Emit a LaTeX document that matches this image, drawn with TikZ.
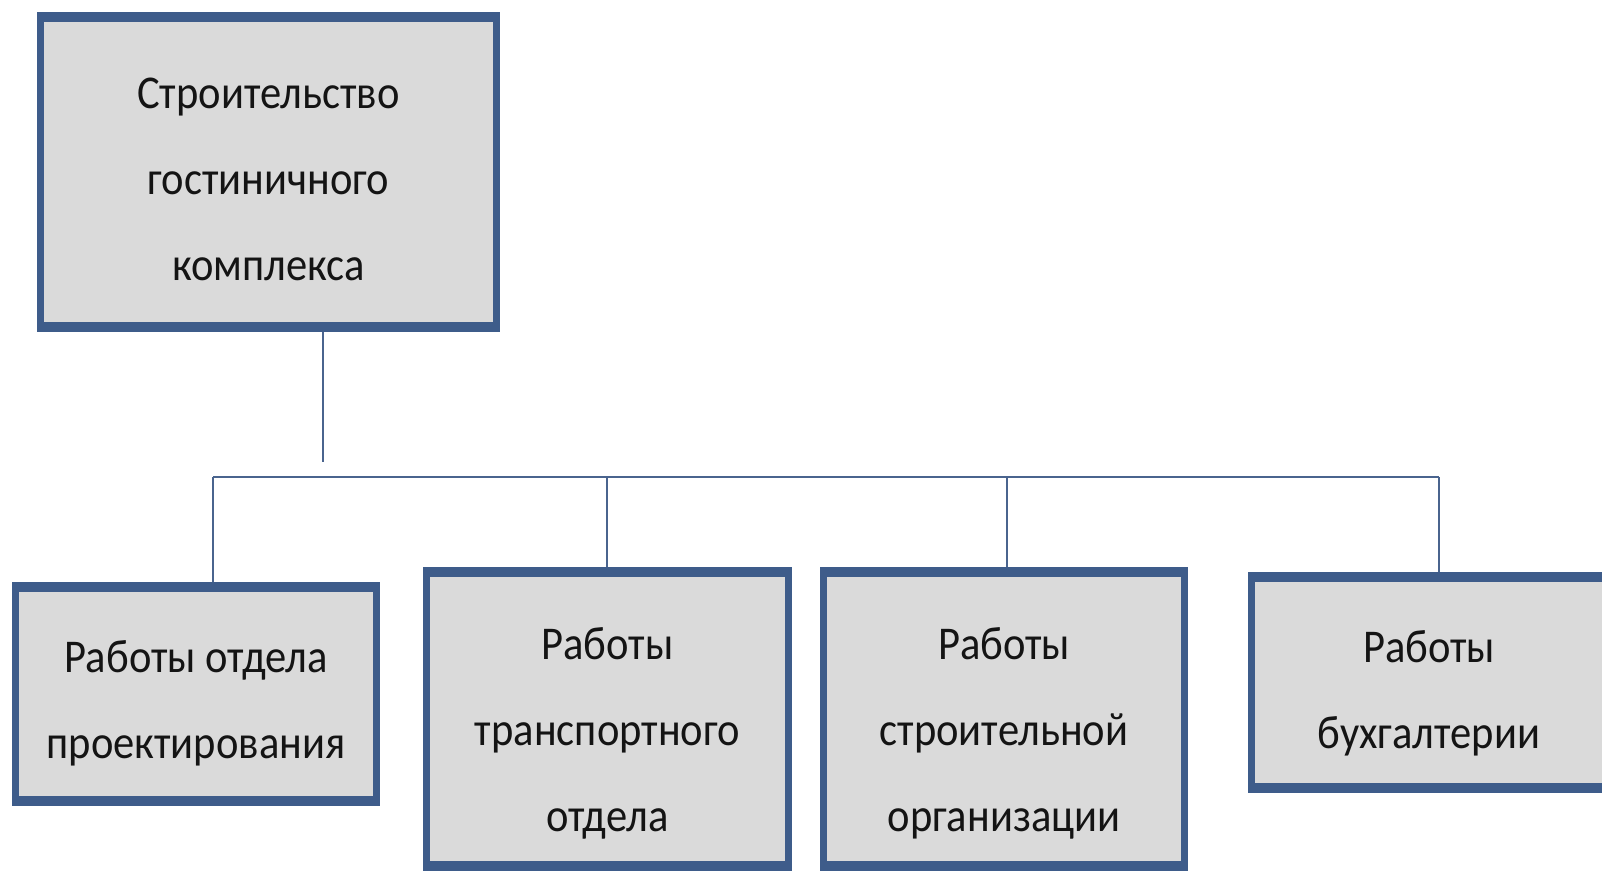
\documentclass[tikz,border=0pt]{standalone}
\usepackage{fontspec}
\newfontfamily\boxfont[FakeStretch=0.905]{Carlito}
\definecolor{edge}{RGB}{62,92,138}
\definecolor{wire}{RGB}{74,100,142}
\definecolor{boxgray}{RGB}{218,218,218}
\tikzset{
  orgbox/.style={fill=edge, inner sep=0pt,
    path picture={\fill[boxgray]
      ([xshift=7pt,yshift=-10pt]path picture bounding box.north west) rectangle
      ([xshift=-7pt,yshift=10pt]path picture bounding box.south east);}},
  boxtext/.style={inner sep=0pt, align=center, text=black!92,
    font={\boxfont\fontsize{47}{86}\selectfont}},
  link/.style={draw=wire, line width=2.5pt}
}
\begin{document}
\begin{tikzpicture}[x=1pt,y=-1pt]
  \useasboundingbox (0,0) rectangle (1602,870);
  \clip (0,0) rectangle (1602,870);
  \fill[white] (0,0) rectangle (1602,870);

  % top-level work
  \node[orgbox, minimum width=463pt, minimum height=320pt] (top) at (268.5,172) {};
  \node[boxtext] (ttop) at ([yshift=-7pt]top.center)
    {Строительство\\гостиничного\\комплекса};

  % departments
  \node[orgbox, minimum width=368pt, minimum height=224pt] (b1) at (196,694) {};
  \node[boxtext] (t1) at ([yshift=-9pt]b1.center) {Работы отдела\\проектирования};

  \node[orgbox, minimum width=369pt, minimum height=304pt] (b2) at (607.5,719) {};
  \node[boxtext] (t2) at ([yshift=-14pt]b2.center) {Работы\\транспортного\\отдела};

  \node[orgbox, minimum width=368pt, minimum height=304pt] (b3) at (1004,719) {};
  \node[boxtext] (t3) at ([yshift=-14pt]b3.center) {Работы\\строительной\\организации};

  \node[orgbox, minimum width=362pt, minimum height=221pt] (b4) at (1429,682.5) {};
  \node[boxtext] (t4) at ([yshift=-11pt]b4.center) {Работы\\бухгалтерии};

  % connector points
  \coordinate (stem) at (323,462);
  \coordinate (d1) at (213,477);
  \coordinate (d2) at (607,477);
  \coordinate (d3) at (1007,477);
  \coordinate (d4) at (1439,477);

  \draw[link] (top.south -| stem) -- (stem);
  \draw[link] (d1) -- (d4);
  \draw[link] (d1) -- (b1.north -| d1);
  \draw[link] (d2) -- (b2.north -| d2);
  \draw[link] (d3) -- (b3.north -| d3);
  \draw[link] (d4) -- (b4.north -| d4);
\end{tikzpicture}
\end{document}
